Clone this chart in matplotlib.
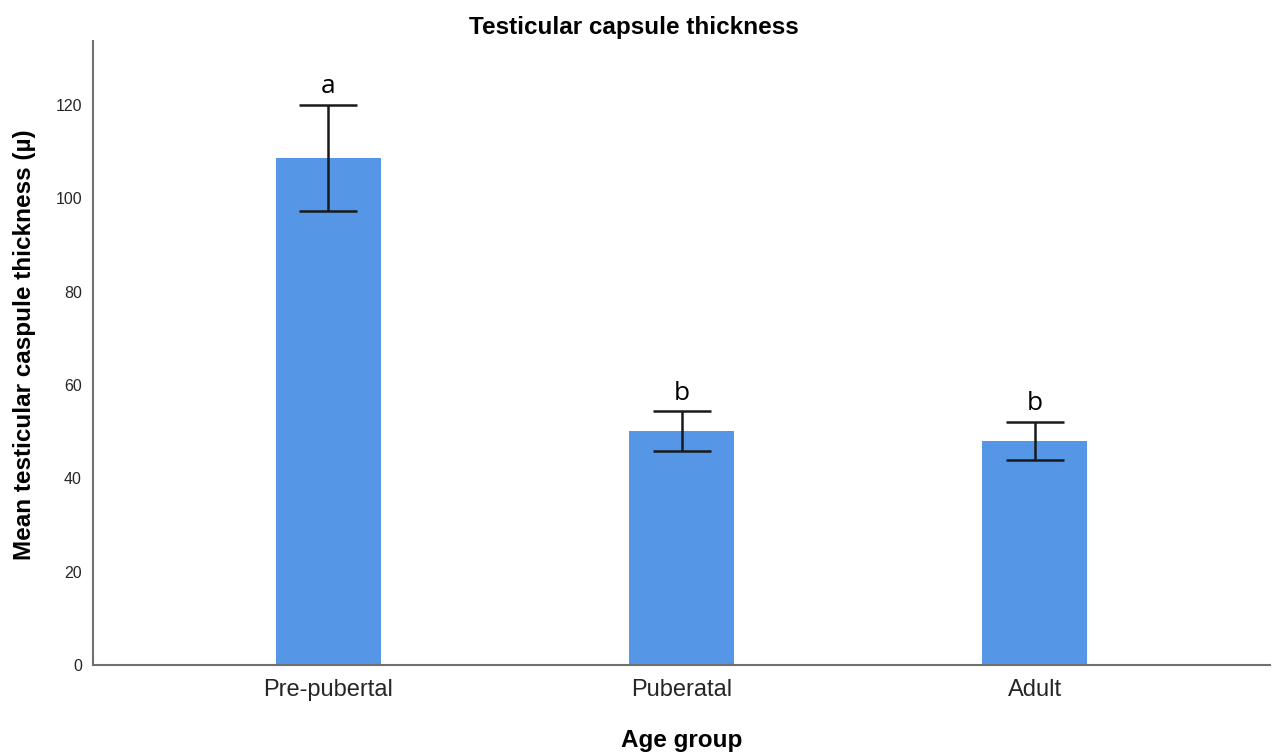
import matplotlib
matplotlib.use("Agg")
import matplotlib.pyplot as plt

# Data
groups = ["Pre-pubertal", "Puberatal", "Adult"]
means = [108.6, 50.1, 48.0]
errors = [11.4, 4.3, 4.1]
letters = ["a", "b", "b"]
yticks = [0, 20, 40, 60, 80, 100, 120]

plt.rcParams["font.family"] = ["Liberation Sans", "DejaVu Sans"]

fig = plt.figure(figsize=(12.76, 7.56), dpi=100)
ax = fig.add_axes([0.0729, 0.1204, 0.9224, 0.8254])

x = list(range(len(groups)))
ax.bar(x, means, width=0.3, color="#5596E6", zorder=2)
ax.errorbar(x, means, yerr=errors, fmt="none", ecolor="#1a1a1a",
            elinewidth=1.8, capsize=20.8, capthick=1.8, zorder=3)

# significance letters above each error bar
for xi, m, e, lab in zip(x, means, errors, letters):
    ax.annotate(lab, (xi, m + e), xytext=(0, 4), textcoords="offset points",
                ha="center", va="bottom", fontsize=19,
                family=["Open Sans", "DejaVu Sans"], color="black")

ax.set_xlim(-0.667, 2.667)
ax.set_ylim(0, 133.7)
ax.set_xticks(x)
ax.set_xticklabels(groups, fontsize=17, color="#262626")
ax.set_yticks(yticks)
ax.set_yticklabels([str(v) for v in yticks], fontsize=11.5, color="#262626")
ax.tick_params(axis="both", length=0, pad=8)
ax.tick_params(axis="x", pad=10)

for side in ["top", "right"]:
    ax.spines[side].set_visible(False)
for side in ["left", "bottom"]:
    ax.spines[side].set_color("#707070")
    ax.spines[side].set_linewidth(1.5)

fig.text(0.497, 0.964, "Testicular capsule thickness", fontsize=17.5,
         fontweight="bold", ha="center", va="center")
ax.set_xlabel("Age group", fontsize=17.5, fontweight="bold", labelpad=20)
ax.set_ylabel("Mean testicular caspule thickness (µ)", fontsize=17.5,
              fontweight="bold")
ax.yaxis.set_label_coords(-0.0484, 0.513)

fig.savefig("out.png", dpi=100)
